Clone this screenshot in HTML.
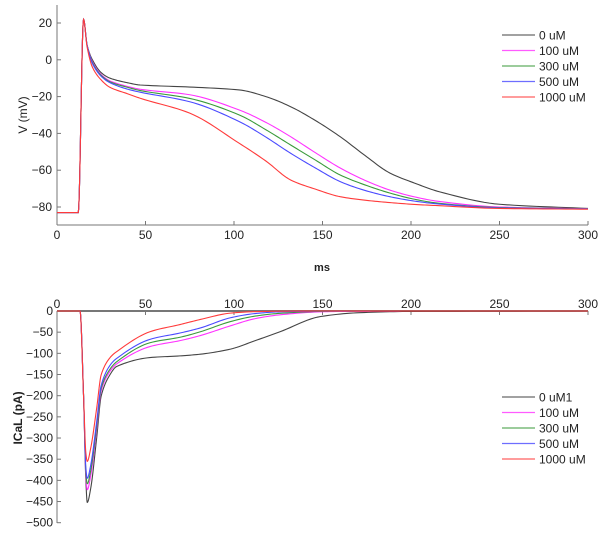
<!DOCTYPE html>
<html><head><meta charset="utf-8"><style>
html,body{margin:0;padding:0;background:#fff;}
svg{display:block;font-family:"Liberation Sans",Arial,sans-serif;}
</style></head><body>
<svg id="chart" width="606" height="533" viewBox="0 0 606 533">
<g id="topPanel"></g>
<g id="botPanel"></g>
</svg>
<script>
const seriesNames = ["0 uM","100 uM","300 uM","500 uM","1000 uM"];
const seriesNamesBottom = ["0 uM1","100 uM","300 uM","500 uM","1000 uM"];
const colors = ["#444","#ff33ff","#3a9a3a","#4a4aff","#ff3a3a"];
const vTime = [0,12,15,17,20,25,30,40,47,75,103,118,132,146,160,174,188,202,216,250,300];
const vBlack = [-83,-83,22,8,0,-7,-10,-12.5,-13.7,-14.8,-16.4,-20,-25.5,-33,-41.8,-52,-61.5,-67,-71.7,-78.5,-80.8];
const vMagenta = [-83,-83,22,8,-1,-8,-11.5,-14.5,-16,-19,-27.3,-34,-41.8,-50.5,-58.8,-65.5,-70.8,-74.5,-77,-80,-81];
const vGreen = [-83,-83,22,8,-1.5,-8.5,-12,-15,-16.7,-21,-30,-38,-46.3,-54.5,-62.6,-68,-72.4,-75.8,-78,-80.3,-81];
const vBlue = [-83,-83,22,8,-2,-9,-12.5,-16,-17.6,-22.8,-33.6,-42,-50.8,-58.8,-66.2,-71,-74.4,-76.8,-78.4,-80.5,-81];
const vRed = [-83,-83,22,7,-4,-11,-15,-18.5,-20.9,-29,-45.4,-55,-65.3,-70.3,-74.4,-76.3,-77.6,-78.6,-79.3,-80.8,-81.2];
const iTime = [0,13,15,16.3,17.1,19,22.4,25,30,33.7,52.5,69.5,81,98,112,126,149,171,200,300];
const iBlack = [0,0,-200,-400,-452,-420,-300,-200,-150,-131,-110,-106,-102,-90,-70,-49,-13,-4,-1,0];
const iMagenta = [0,0,-200,-390,-422,-390,-280,-188,-142,-125,-84,-70,-58,-35,-18,-9,-2,-0.5,0,0];
const iGreen = [0,0,-200,-380,-408,-378,-272,-182,-137,-120,-75,-62,-49,-25,-12,-5.5,-1,0,0,0];
const iBlue = [0,0,-200,-370,-395,-365,-262,-175,-128,-112,-67,-52,-40,-16,-6,-2,-0.5,0,0,0];
const iRed = [0,0,-200,-335,-355,-325,-230,-150,-110,-96,-49,-32,-20,-5,-1.5,-0.5,0,0,0,0];
const xTicks = [0,50,100,150,200,250,300];
const vTicks = [-80,-60,-40,-20,0,20];
const iTicks = [0,-50,-100,-150,-200,-250,-300,-350,-400,-450,-500];

const NS="http://www.w3.org/2000/svg";
function mk(parent,tag,attrs){const e=document.createElementNS(NS,tag);for(const k in attrs)e.setAttribute(k,attrs[k]);parent.appendChild(e);return e;}
const X0=57, X1=588;
const xs = t => X0 + (X1-X0)*t/300;
const yV = v => 23 + (20-v)*1.84;
const yI = i => 311 - i*0.4234;

function monotone(xa,ya,n){
  const m=xa.length,d=[],s=[];
  for(let i=0;i<m-1;i++)d.push((ya[i+1]-ya[i])/(xa[i+1]-xa[i]));
  for(let i=0;i<m;i++){
    if(i==0)s.push(d[0]);else if(i==m-1)s.push(d[m-2]);
    else s.push(d[i-1]*d[i]<=0?0:(2*d[i-1]*d[i])/(d[i-1]+d[i]));
  }
  const pts=[];
  for(let i=0;i<m-1;i++){
    const h=xa[i+1]-xa[i];
    for(let k=0;k<n;k++){
      const u=k/n,h00=2*u*u*u-3*u*u+1,h10=u*u*u-2*u*u+u,h01=-2*u*u*u+3*u*u,h11=u*u*u-u*u;
      pts.push([xa[i]+u*h,h00*ya[i]+h10*h*s[i]+h01*ya[i+1]+h11*h*s[i+1]]);
    }
  }
  pts.push([xa[m-1],ya[m-1]]);
  return pts;
}
const topG=document.getElementById('topPanel'), botG=document.getElementById('botPanel');
const AX="#777";
let l=mk(topG,'line',{x1:X0,y1:5,x2:X0,y2:225,stroke:AX,'stroke-width':1});


l=mk(topG,'line',{x1:X0,y1:225,x2:X1,y2:225,stroke:AX,'stroke-width':1});


xTicks.forEach(t=>{
  mk(topG,'line',{x1:xs(t),y1:225,x2:xs(t),y2:221,stroke:AX});
  const tx=mk(topG,'text',{x:xs(t),y:239,'font-size':12,'text-anchor':'middle',fill:'#222'});tx.textContent=t;
  
  
});
vTicks.forEach(v=>{
  mk(topG,'line',{x1:X0,y1:yV(v),x2:X0+4,y2:yV(v),stroke:AX});
  const tx=mk(topG,'text',{x:X0-5,y:yV(v)+4,'font-size':12,'text-anchor':'end',fill:'#222'});tx.textContent=(v<0?'\u2212'+(-v):v);
  
  
});
let t1=mk(topG,'text',{x:0,y:0,'font-size':12,'text-anchor':'middle',fill:'#222',transform:'translate(27,115) rotate(-90)'});t1.textContent='V (mV)';


t1=mk(topG,'text',{x:322,y:271,'font-size':11,'font-weight':'bold','text-anchor':'middle',fill:'#222'});t1.textContent='ms';


l=mk(botG,'line',{x1:X0,y1:311,x2:X0,y2:523,stroke:AX});


l=mk(botG,'line',{x1:X0,y1:311,x2:X1,y2:311,stroke:AX,'stroke-width':2});


xTicks.forEach(t=>{
  mk(botG,'line',{x1:xs(t),y1:311,x2:xs(t),y2:315,stroke:AX});
  const tx=mk(botG,'text',{x:xs(t),y:308,'font-size':12,'text-anchor':'middle',fill:'#222'});tx.textContent=t;
  
  
});
iTicks.forEach(v=>{
  mk(botG,'line',{x1:X0,y1:yI(v),x2:X0+4,y2:yI(v),stroke:AX});
  const tx=mk(botG,'text',{x:X0-4,y:yI(v)+4,'font-size':12,'text-anchor':'end',fill:'#222'});tx.textContent=(v<0?'\u2212'+(-v):v);
  
  
});
t1=mk(botG,'text',{x:0,y:0,'font-size':12,'font-weight':'bold','text-anchor':'middle',fill:'#222',transform:'translate(22,418) rotate(-90)'});t1.textContent='ICaL (pA)';



const vData=[vBlack,vMagenta,vGreen,vBlue,vRed];
const iData=[iBlack,iMagenta,iGreen,iBlue,iRed];
vData.forEach((arr,k)=>{
  const p=monotone(vTime,arr,12).map(q=>xs(q[0]).toFixed(2)+','+yV(q[1]).toFixed(2)).join(' ');
  const e=mk(topG,'polyline',{points:p,fill:'none',stroke:colors[k],'stroke-width':1.1});
  
  
});
iData.forEach((arr,k)=>{
  const p=monotone(iTime,arr,12).map(q=>xs(q[0]).toFixed(2)+','+yI(q[1]).toFixed(2)).join(' ');
  const e=mk(botG,'polyline',{points:p,fill:'none',stroke:colors[k],'stroke-width':1.1});
  
  
});
function legend(g,names,y0,name){
  const lg=mk(g,'g',{});
  
  
  names.forEach((n,k)=>{
    const y=y0+k*15.5;
    mk(lg,'line',{x1:502,y1:y,x2:535,y2:y,stroke:colors[k],'stroke-width':1.2,opacity:0.8});
    const tx=mk(lg,'text',{x:539,y:y+4.5,'font-size':12,fill:'#222'});tx.textContent=n;
    
    
  });
}
legend(topG,seriesNames,35,'v-legend');
legend(botG,seriesNamesBottom,397,'ical-legend');
</script>
</body></html>
